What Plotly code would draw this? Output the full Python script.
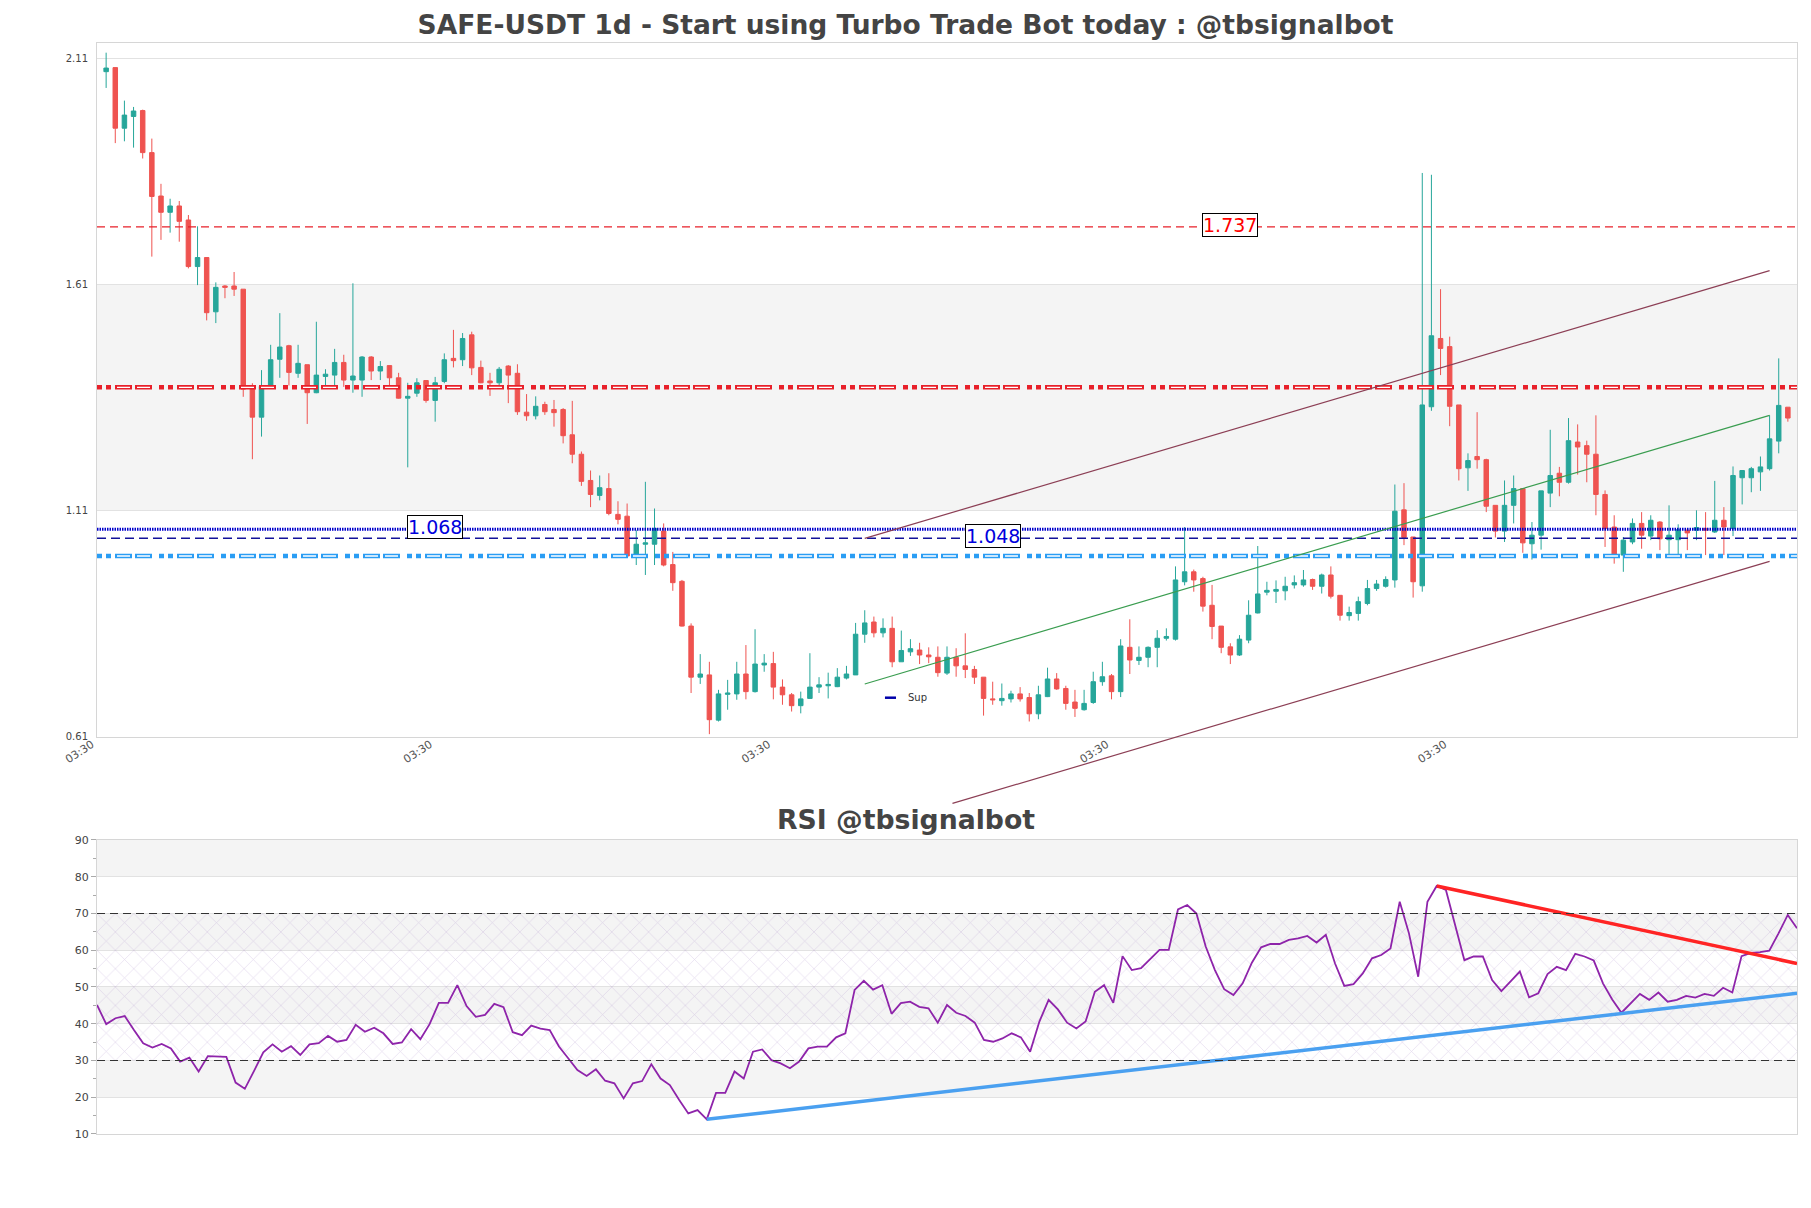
import pandas as pd
import plotly.graph_objects as go

# ---------------- data ----------------
dates = pd.date_range("2024-07-12 03:30", periods=185, freq="D")

opens = [2.080, 2.089, 1.955, 1.981, 1.994, 1.901, 1.805, 1.769, 1.783, 1.752,
         1.649, 1.669, 1.549, 1.606, 1.606, 1.599, 1.384, 1.316, 1.382, 1.444,
         1.474, 1.413, 1.432, 1.370, 1.406, 1.409, 1.437, 1.398, 1.398, 1.449,
         1.418, 1.430, 1.403, 1.358, 1.369, 1.397, 1.353, 1.395, 1.446, 1.443,
         1.498, 1.426, 1.396, 1.392, 1.429, 1.413, 1.327, 1.319, 1.344, 1.333,
         1.333, 1.277, 1.234, 1.176, 1.143, 1.158, 1.101, 1.097, 1.009, 1.035,
         1.035, 1.064, 0.990, 0.953, 0.854, 0.741, 0.746, 0.646, 0.703, 0.704,
         0.748, 0.709, 0.768, 0.771, 0.719, 0.702, 0.678, 0.694, 0.719, 0.722,
         0.720, 0.739, 0.746, 0.836, 0.863, 0.839, 0.849, 0.775, 0.797, 0.801,
         0.790, 0.785, 0.750, 0.785, 0.766, 0.758, 0.741, 0.693, 0.689, 0.693,
         0.704, 0.696, 0.660, 0.698, 0.737, 0.716, 0.686, 0.669, 0.685, 0.731,
         0.744, 0.709, 0.807, 0.778, 0.785, 0.807, 0.827, 0.825, 0.952, 0.974,
         0.959, 0.900, 0.854, 0.808, 0.790, 0.823, 0.883, 0.929, 0.931, 0.932,
         0.945, 0.945, 0.957, 0.942, 0.967, 0.922, 0.877, 0.882, 0.904, 0.937,
         0.942, 0.956, 1.111, 1.051, 0.943, 1.339, 1.490, 1.472, 1.343, 1.204,
         1.229, 1.222, 1.121, 1.064, 1.121, 1.158, 1.036, 1.055, 1.148, 1.192,
         1.172, 1.261, 1.253, 1.234, 1.145, 1.073, 1.011, 1.040, 1.081, 1.053,
         1.084, 1.045, 1.045, 1.066, 1.066, 1.070, 1.062, 1.088, 1.070, 1.182,
         1.182, 1.195, 1.202, 1.263, 1.338]

highs = [2.122, 2.089, 2.016, 2.002, 1.996, 1.932, 1.832, 1.799, 1.794, 1.763,
         1.738, 1.669, 1.614, 1.608, 1.637, 1.599, 1.391, 1.420, 1.476, 1.546,
         1.476, 1.476, 1.432, 1.527, 1.422, 1.467, 1.454, 1.612, 1.451, 1.451,
         1.440, 1.430, 1.414, 1.392, 1.402, 1.398, 1.405, 1.457, 1.509, 1.502,
         1.505, 1.441, 1.414, 1.427, 1.431, 1.433, 1.367, 1.362, 1.350, 1.354,
         1.336, 1.352, 1.240, 1.198, 1.187, 1.192, 1.130, 1.125, 1.066, 1.173,
         1.114, 1.081, 1.018, 0.956, 0.860, 0.792, 0.775, 0.713, 0.735, 0.775,
         0.812, 0.847, 0.792, 0.797, 0.736, 0.706, 0.709, 0.794, 0.741, 0.751,
         0.761, 0.766, 0.861, 0.889, 0.875, 0.871, 0.875, 0.844, 0.825, 0.817,
         0.807, 0.809, 0.809, 0.805, 0.838, 0.766, 0.741, 0.731, 0.727, 0.711,
         0.719, 0.706, 0.722, 0.762, 0.750, 0.722, 0.713, 0.713, 0.753, 0.775,
         0.748, 0.825, 0.869, 0.809, 0.809, 0.845, 0.849, 0.986, 1.073, 0.979,
         0.963, 0.945, 0.854, 0.816, 0.834, 0.911, 1.031, 0.952, 0.955, 0.963,
         0.966, 0.978, 0.959, 0.970, 0.986, 0.922, 0.897, 0.919, 0.956, 0.956,
         0.964, 1.167, 1.170, 1.051, 1.856, 1.852, 1.599, 1.494, 1.343, 1.236,
         1.327, 1.224, 1.121, 1.176, 1.187, 1.158, 1.084, 1.153, 1.288, 1.206,
         1.314, 1.300, 1.264, 1.320, 1.154, 1.099, 1.051, 1.092, 1.106, 1.099,
         1.086, 1.121, 1.079, 1.070, 1.110, 1.106, 1.175, 1.117, 1.207, 1.198,
         1.206, 1.229, 1.320, 1.446, 1.338]

lows = [2.044, 1.922, 1.926, 1.912, 1.888, 1.671, 1.708, 1.724, 1.704, 1.645,
        1.608, 1.530, 1.524, 1.579, 1.584, 1.361, 1.223, 1.273, 1.380, 1.403,
        1.386, 1.403, 1.301, 1.369, 1.383, 1.386, 1.383, 1.370, 1.361, 1.398,
        1.398, 1.383, 1.357, 1.205, 1.361, 1.348, 1.306, 1.391, 1.426, 1.429,
        1.409, 1.391, 1.363, 1.383, 1.347, 1.321, 1.308, 1.311, 1.321, 1.295,
        1.258, 1.214, 1.164, 1.117, 1.132, 1.099, 1.079, 1.007, 0.989, 0.967,
        0.989, 0.986, 0.932, 0.853, 0.706, 0.726, 0.615, 0.643, 0.669, 0.691,
        0.692, 0.707, 0.753, 0.692, 0.680, 0.665, 0.661, 0.693, 0.706, 0.694,
        0.719, 0.736, 0.746, 0.817, 0.829, 0.829, 0.763, 0.775, 0.788, 0.770,
        0.772, 0.742, 0.746, 0.742, 0.739, 0.726, 0.656, 0.680, 0.678, 0.685,
        0.687, 0.643, 0.648, 0.697, 0.713, 0.669, 0.653, 0.667, 0.682, 0.722,
        0.692, 0.697, 0.748, 0.768, 0.763, 0.763, 0.822, 0.822, 0.944, 0.930,
        0.886, 0.825, 0.794, 0.770, 0.788, 0.816, 0.882, 0.922, 0.905, 0.911,
        0.937, 0.941, 0.934, 0.926, 0.915, 0.866, 0.866, 0.866, 0.900, 0.932,
        0.939, 0.939, 1.033, 0.917, 0.930, 1.330, 1.409, 1.296, 1.176, 1.153,
        1.202, 1.106, 1.050, 1.040, 1.081, 1.016, 1.001, 1.023, 1.117, 1.141,
        1.169, 1.189, 1.172, 1.099, 1.029, 0.992, 0.974, 1.035, 1.025, 1.044,
        1.022, 1.013, 1.013, 1.022, 1.044, 1.011, 1.060, 1.011, 1.053, 1.123,
        1.150, 1.153, 1.198, 1.236, 1.306]

closes = [2.088, 1.955, 1.984, 1.993, 1.901, 1.804, 1.769, 1.783, 1.749, 1.649,
          1.669, 1.547, 1.603, 1.603, 1.599, 1.378, 1.316, 1.384, 1.443, 1.471,
          1.415, 1.435, 1.370, 1.409, 1.411, 1.437, 1.398, 1.407, 1.449, 1.418,
          1.428, 1.403, 1.358, 1.362, 1.392, 1.353, 1.392, 1.443, 1.441, 1.490,
          1.425, 1.392, 1.392, 1.422, 1.409, 1.328, 1.319, 1.340, 1.328, 1.326,
          1.275, 1.234, 1.174, 1.145, 1.160, 1.103, 1.090, 1.009, 1.035, 1.038,
          1.070, 0.989, 0.950, 0.854, 0.741, 0.748, 0.647, 0.704, 0.706, 0.748,
          0.709, 0.770, 0.772, 0.719, 0.702, 0.678, 0.693, 0.719, 0.724, 0.725,
          0.741, 0.748, 0.836, 0.861, 0.839, 0.849, 0.775, 0.800, 0.804, 0.790,
          0.786, 0.751, 0.785, 0.766, 0.758, 0.741, 0.694, 0.691, 0.694, 0.704,
          0.693, 0.660, 0.702, 0.737, 0.715, 0.683, 0.672, 0.683, 0.731, 0.742,
          0.709, 0.810, 0.779, 0.785, 0.807, 0.827, 0.831, 0.956, 0.974, 0.956,
          0.898, 0.853, 0.807, 0.790, 0.825, 0.878, 0.925, 0.933, 0.935, 0.942,
          0.950, 0.956, 0.942, 0.967, 0.920, 0.878, 0.884, 0.908, 0.937, 0.947,
          0.957, 1.108, 1.050, 0.952, 1.343, 1.496, 1.468, 1.340, 1.202, 1.220,
          1.222, 1.119, 1.064, 1.121, 1.158, 1.038, 1.055, 1.153, 1.187, 1.172,
          1.264, 1.250, 1.234, 1.145, 1.070, 1.006, 1.044, 1.081, 1.055, 1.088,
          1.047, 1.055, 1.067, 1.060, 1.072, 1.066, 1.088, 1.073, 1.187, 1.198,
          1.202, 1.206, 1.268, 1.342, 1.314]

rsi = [45.1, 39.9, 41.5, 42.1, 38.3, 34.7, 33.5, 34.5, 33.3, 29.7,
       30.8, 27.0, 31.2, 31.2, 31.0, 24.0, 22.3, 27.2, 32.2, 34.4,
       32.4, 33.9, 31.5, 34.4, 34.7, 36.7, 35.1, 35.6, 39.7, 37.8,
       38.9, 37.4, 34.5, 34.9, 38.5, 35.8, 39.9, 45.7, 45.7, 50.5,
       44.8, 41.9, 42.4, 45.4, 44.5, 37.7, 36.9, 39.5, 38.7, 38.3,
       33.8, 30.6, 27.4, 25.8, 27.6, 24.5, 23.8, 19.7, 23.8, 24.4,
       29.0, 25.1, 23.3, 19.3, 15.6, 16.5, 14.0, 21.2, 21.2, 27.0,
       25.1, 32.4, 33.0, 30.1, 29.2, 27.9, 29.7, 33.3, 33.8, 33.8,
       36.3, 37.4, 49.2, 51.7, 49.3, 50.5, 42.7, 45.6, 46.0, 44.6,
       44.2, 40.3, 45.1, 43.0, 42.1, 40.3, 35.6, 35.1, 36.0, 37.4,
       36.3, 32.4, 40.6, 46.5, 43.9, 40.3, 38.7, 40.6, 48.7, 50.5,
       45.7, 58.4, 54.6, 55.1, 57.5, 60.1, 60.1, 71.1, 72.3, 70.0,
       61.0, 54.6, 49.4, 47.8, 51.0, 56.6, 60.8, 61.7, 61.7, 62.8,
       63.2, 63.9, 62.1, 64.2, 56.4, 50.3, 50.8, 53.7, 57.8, 58.7,
       60.5, 73.2, 64.6, 52.8, 73.2, 77.5, 76.4, 66.9, 57.3, 58.3,
       58.3, 51.9, 48.9, 51.5, 54.2, 47.2, 48.3, 53.5, 55.5, 54.6,
       59.0, 58.3, 57.2, 51.0, 46.6, 43.0, 45.6, 48.1, 46.5, 48.5,
       46.0, 46.5, 47.6, 47.1, 48.1, 47.6, 49.8, 48.5, 58.4, 59.3,
       59.5, 59.9, 64.6, 69.6, 66.0]

# horizontal levels
res_level = 1.737
red_zone_level = 1.382
sup_dot_level = 1.068
sup_dash_level = 1.048
cyan_level = 1.009
level_labels = ["1.737", "1.068", "1.048"]
level_label_values = [1.737, 1.068, 1.048]
level_label_idx = [123, 36, 97]
level_label_colors = ["#ff0000", "#0000dd", "#0000dd"]

# channel lines (candle index, price)
upper_idx, upper_px = [83, 182], [1.048, 1.640]
mid_idx, mid_px = [83, 182], [0.726, 1.320]
lower_idx, lower_px = [92.6, 182], [0.462, 0.997]

# RSI trend lines (index, value)
rsi_sup_idx, rsi_sup_val = [66, 184], [14.0, 48.3]
rsi_res_idx, rsi_res_val = [145, 184], [77.5, 56.4]

main_ticks = [0.61, 1.11, 1.61, 2.11]
main_bands = [(1.11, 1.61)]
rsi_ticks = [10, 20, 30, 40, 50, 60, 70, 80, 90]
rsi_bands = [(20, 30), (40, 50), (60, 70), (80, 90)]
x_tick_idx = [-1, 36, 73, 110, 147]

# ---------------- layout geometry ----------------
MAIN_DOM = [0.36389, 1.0]
RSI_DOM = [0.0, 0.26948]
Y_RANGE = [0.6087, 2.1434]


def d(idx):
    return dates[0] + pd.Timedelta(days=idx)


x_main_range = [d(-1), d(185)]
x_rsi_range = [dates[0], dates[-1]]


def xp(idx):
    t0, t1 = x_main_range
    return (d(idx) - t0) / (t1 - t0)


def yp(p):
    return MAIN_DOM[0] + (p - Y_RANGE[0]) / (Y_RANGE[1] - Y_RANGE[0]) * (MAIN_DOM[1] - MAIN_DOM[0])


fig = go.Figure()

fig.add_trace(go.Candlestick(
    x=dates, open=opens, high=highs, low=lows, close=closes,
    increasing=dict(line=dict(color="#26a69a", width=1), fillcolor="#26a69a"),
    decreasing=dict(line=dict(color="#ef5350", width=1), fillcolor="#ef5350"),
    xaxis="x", yaxis="y", showlegend=False, hoverinfo="skip"))

# hatched RSI zone 30-70
fig.add_trace(go.Scatter(
    x=[dates[0], dates[-1], dates[-1], dates[0], dates[0]],
    y=[30, 30, 70, 70, 30], mode="lines", line=dict(width=0),
    fill="toself", fillcolor="rgba(0,0,0,0)",
    fillpattern=dict(shape="x", fgcolor="rgba(150,115,190,0.55)",
                     bgcolor="rgba(0,0,0,0)", size=13, solidity=0.1),
    xaxis="x2", yaxis="y2", showlegend=False, hoverinfo="skip"))

fig.add_trace(go.Scatter(
    x=dates, y=rsi, mode="lines", line=dict(color="#8e24aa", width=1.8),
    xaxis="x2", yaxis="y2", showlegend=False, hoverinfo="skip"))

fig.add_trace(go.Scatter(
    x=[d(i) for i in rsi_sup_idx], y=rsi_sup_val, mode="lines",
    line=dict(color="#4aa0f0", width=3.5),
    xaxis="x2", yaxis="y2", showlegend=False, hoverinfo="skip"))

fig.add_trace(go.Scatter(
    x=[d(i) for i in rsi_res_idx], y=rsi_res_val, mode="lines",
    line=dict(color="#ff2424", width=3.5),
    xaxis="x2", yaxis="y2", showlegend=False, hoverinfo="skip"))

shapes = []
for lo, hi in main_bands:
    shapes.append(dict(type="rect", xref="x domain", yref="y", x0=0, x1=1, y0=lo, y1=hi,
                       fillcolor="#f4f4f4", line=dict(width=0), layer="below"))
for lo, hi in rsi_bands:
    shapes.append(dict(type="rect", xref="x2 domain", yref="y2", x0=0, x1=1, y0=lo, y1=hi,
                       fillcolor="#f4f4f4", line=dict(width=0), layer="below"))
for lvl in (30, 70):
    shapes.append(dict(type="line", xref="x2 domain", yref="y2", x0=0, x1=1, y0=lvl, y1=lvl,
                       line=dict(color="#333333", width=1.2, dash="8px,5px")))


def hline(level, color, width, dash):
    shapes.append(dict(type="line", xref="x domain", yref="y", x0=0, x1=1, y0=level, y1=level,
                       line=dict(color=color, width=width, dash=dash)))


PATTERN = "5px,4px,5px,4px,17px,3px,17px,7px"
PATTERN_CORE = "0px,20px,13px,7px,13px,9px"
hline(res_level, "#e8202a", 1.3, "8px,5px")
hline(red_zone_level, "#e8202a", 4.5, PATTERN)
hline(red_zone_level, "#ffffff", 1.3, PATTERN_CORE)
hline(sup_dot_level, "#0000cc", 3, "1.5px,1px")
hline(sup_dash_level, "#12129a", 1.5, "9px,5px")
hline(cyan_level, "#2a9df4", 4.5, PATTERN)
hline(cyan_level, "#ffffff", 1.3, PATTERN_CORE)

for idx, px, col in ((upper_idx, upper_px, "#8c3f55"), (mid_idx, mid_px, "#3a9d50"),
                     (lower_idx, lower_px, "#8c3f55")):
    shapes.append(dict(type="line", xref="paper", yref="paper",
                       x0=xp(idx[0]), x1=xp(idx[1]), y0=yp(px[0]), y1=yp(px[1]),
                       line=dict(color=col, width=1.2)))

# "Sup" key
shapes.append(dict(type="line", xref="paper", yref="paper",
                   x0=0.4635, x1=0.4700, y0=0.3999, y1=0.3999,
                   line=dict(color="#0000aa", width=2.5)))

annotations = []
for txt, val, idx, col in zip(level_labels, level_label_values, level_label_idx, level_label_colors):
    annotations.append(dict(x=d(idx), y=val, xref="x", yref="y", text=txt, showarrow=False,
                            font=dict(family="DejaVu Sans", size=19, color=col),
                            bgcolor="white", bordercolor="black", borderwidth=1, borderpad=0,
                            yshift=2))
annotations.append(dict(x=0.4759, y=0.3999, xref="paper", yref="paper", text="Sup",
                        showarrow=False, xanchor="left", yanchor="middle",
                        font=dict(family="DejaVu Sans", size=10, color="#333333")))
annotations.append(dict(x=0.4756, y=0.2887, xref="paper", yref="paper",
                        text="<b>RSI @tbsignalbot</b>", showarrow=False,
                        xanchor="center", yanchor="middle",
                        font=dict(family="DejaVu Sans", size=26.7, color="#444444")))

fig.update_layout(
    width=1811, height=1208,
    margin=dict(l=89, r=22, t=35, b=82),
    paper_bgcolor="white", plot_bgcolor="white",
    font=dict(family="DejaVu Sans", color="#444444"),
    title=dict(text="<b>SAFE-USDT 1d - Start using Turbo Trade Bot today : @tbsignalbot</b>",
               x=0.4956, xanchor="center", y=1 - 16.5 / 1208, yanchor="middle",
               font=dict(family="DejaVu Sans", size=26.5, color="#444444")),
    showlegend=False,
    shapes=shapes,
    annotations=annotations,
    xaxis=dict(domain=[0, 1], anchor="y", range=x_main_range, type="date",
               rangeslider=dict(visible=False), showgrid=False, zeroline=False,
               tickvals=[d(i) for i in x_tick_idx], tickformat="%H:%M", tickangle=-33,
               tickfont=dict(size=11, color="#555555"), ticks="",
               ticklabelshift=-5, ticklabelstandoff=-4,
               showline=True, mirror=True, linecolor="#d6d6d6", linewidth=1),
    yaxis=dict(domain=MAIN_DOM, anchor="x", range=Y_RANGE, tickvals=main_ticks,
               showgrid=True, gridcolor="#e2e2e2", zeroline=False, ticks="",
               ticklabelstandoff=6,
               tickfont=dict(size=10, color="#444444"),
               showline=True, mirror=True, linecolor="#d6d6d6", linewidth=1),
    xaxis2=dict(domain=[0, 1], anchor="y2", range=x_rsi_range, type="date",
                showgrid=False, zeroline=False, showticklabels=False, ticks="",
                showline=True, mirror=True, linecolor="#d6d6d6", linewidth=1),
    yaxis2=dict(domain=RSI_DOM, anchor="x2", range=[10, 90], tickvals=rsi_ticks,
                showgrid=True, gridcolor="#e2e2e2", zeroline=False,
                ticks="outside", ticklen=5, tickcolor="#aaaaaa",
                minor=dict(dtick=5, tick0=5, ticks="outside", ticklen=3, tickcolor="#aaaaaa",
                           showgrid=False),
                tickfont=dict(size=11, color="#444444"),
                showline=True, mirror=True, linecolor="#d6d6d6", linewidth=1),
)

fig.write_html("out.html")
